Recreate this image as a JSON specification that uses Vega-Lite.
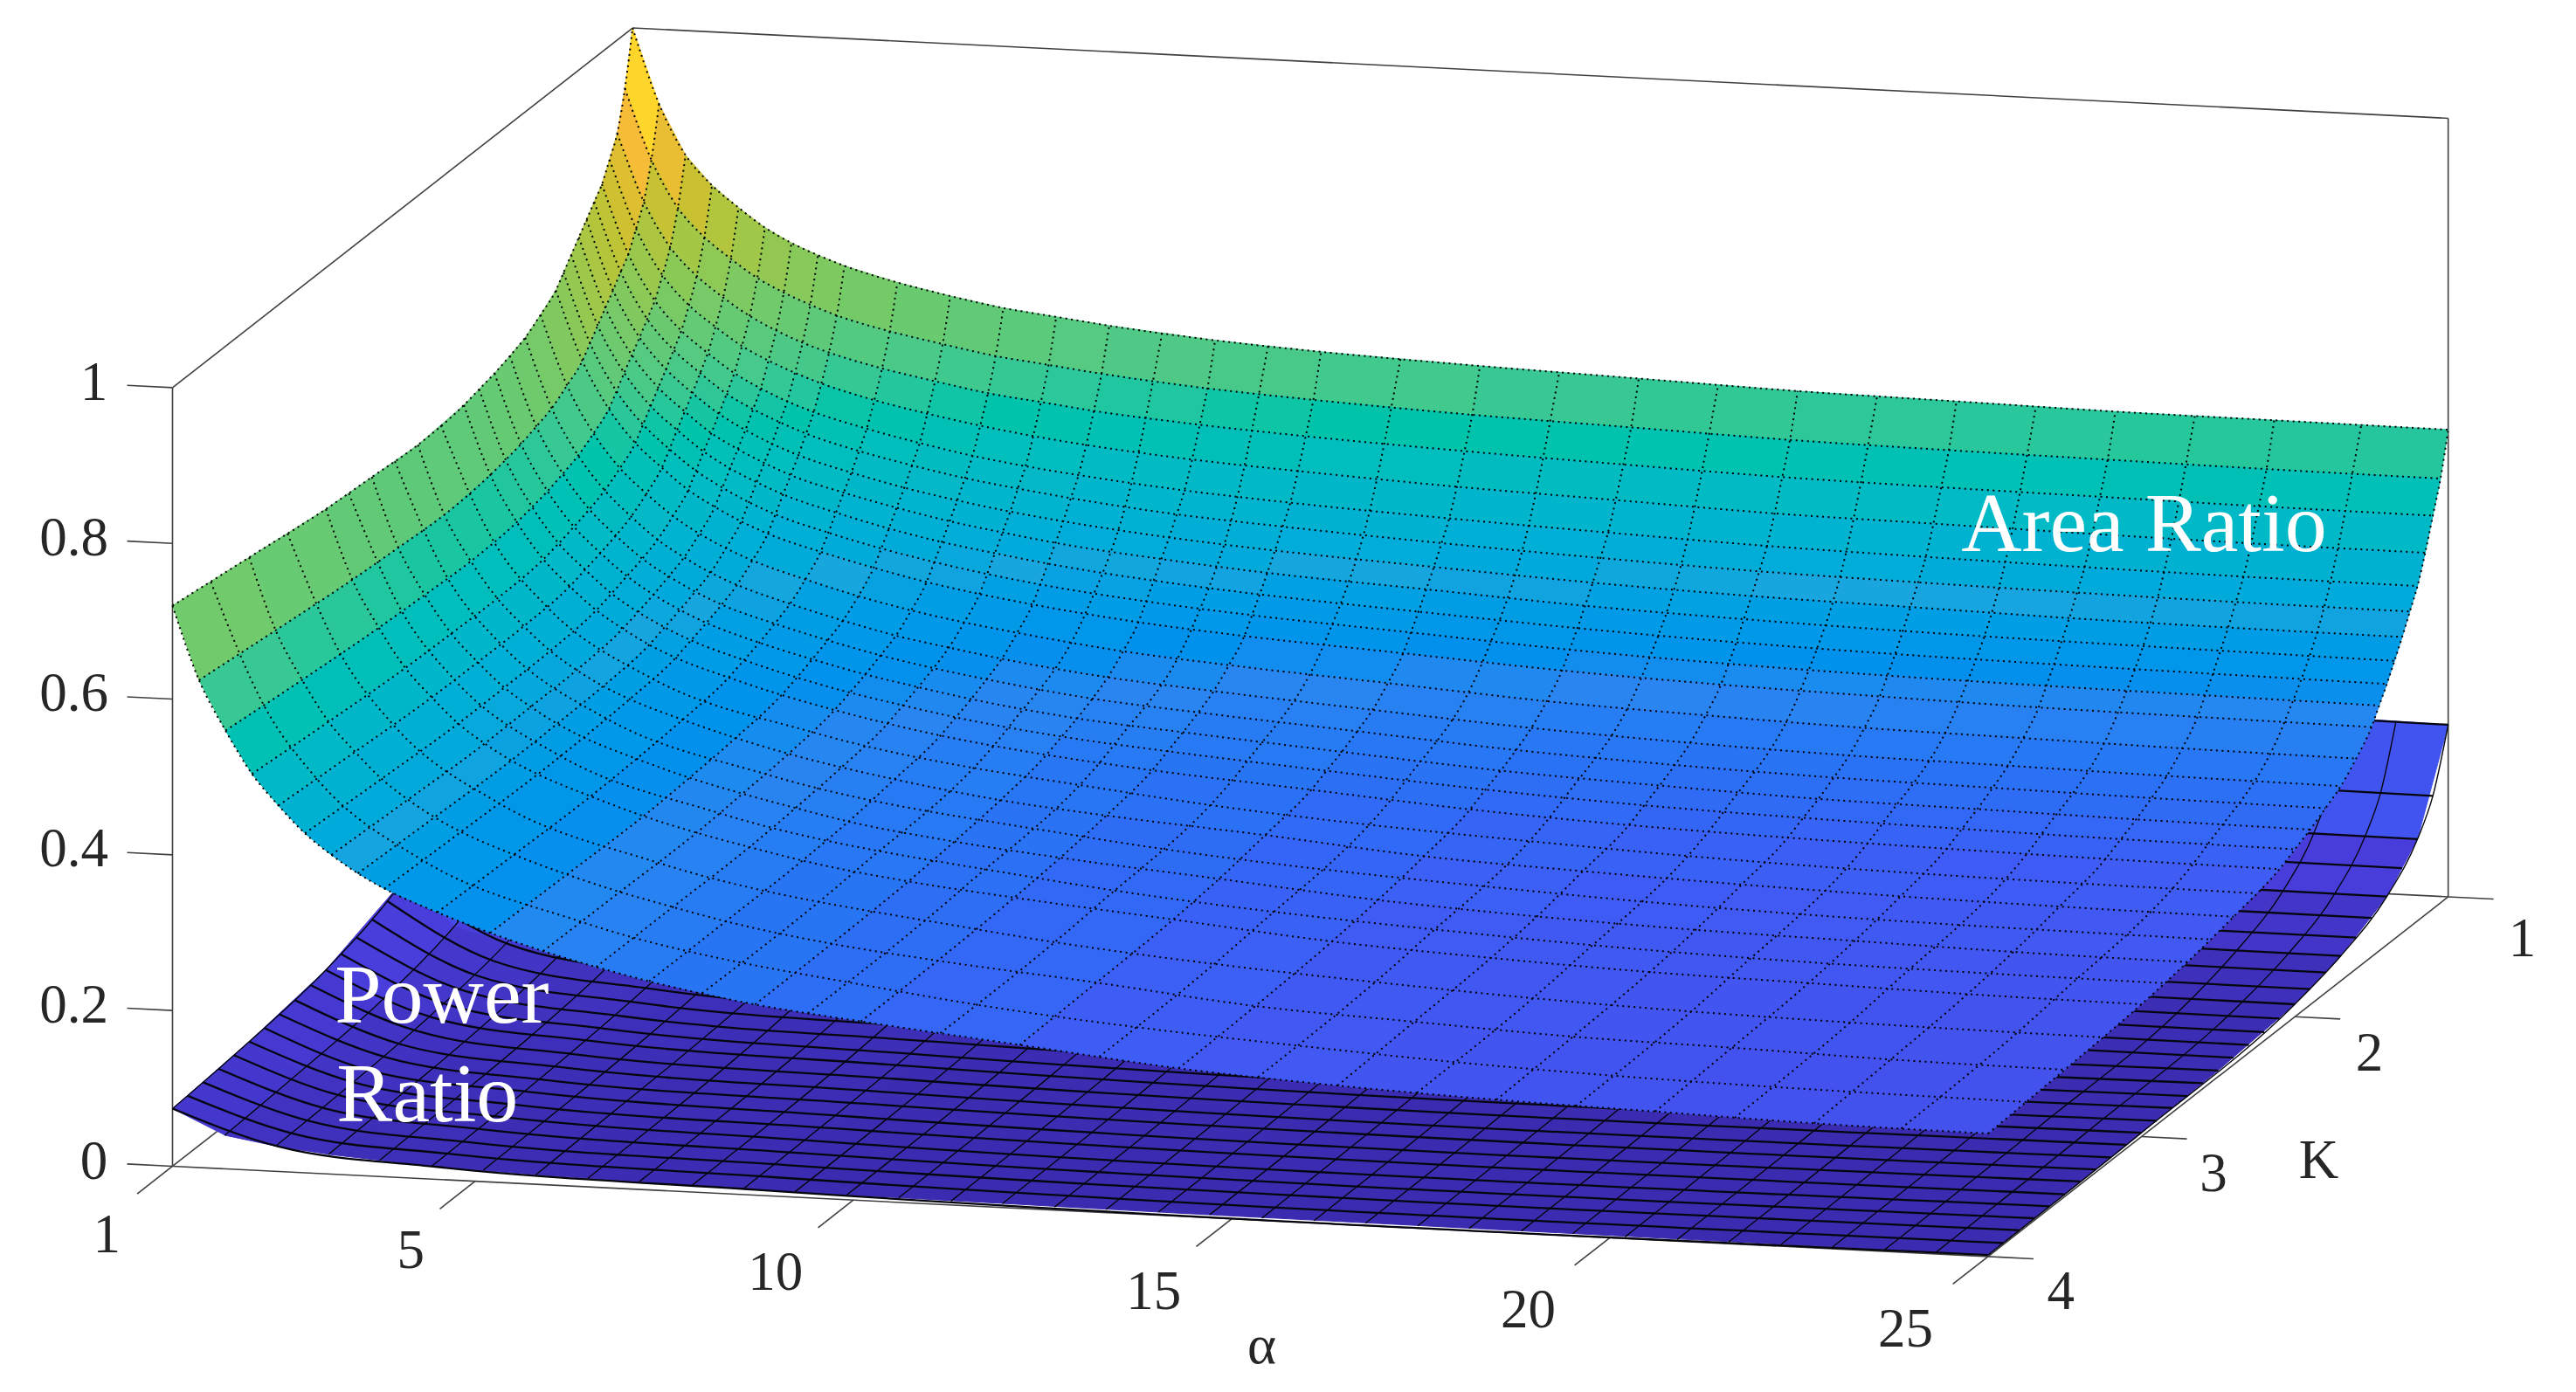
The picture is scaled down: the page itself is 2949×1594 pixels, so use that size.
{"$schema":"https://vega.github.io/schema/vega-lite/v6.json","width":2949,"height":1594,"padding":0,"autosize":"none","background":"white","config":{"view":{"stroke":null}},
"datasets":{
"box":[{"l":1,"a":1,"k":4,"z":0},{"l":1,"a":1,"k":4,"z":1},{"l":2,"a":1,"k":4,"z":1},{"l":2,"a":1,"k":1,"z":1},{"l":3,"a":1,"k":1,"z":1},{"l":3,"a":25,"k":1,"z":1},{"l":4,"a":25,"k":1,"z":1},{"l":4,"a":25,"k":1,"z":0},{"l":5,"a":1,"k":4,"z":0},{"l":5,"a":25,"k":4,"z":0},{"l":6,"a":25,"k":4,"z":0},{"l":6,"a":25,"k":1,"z":0},{"l":7,"a":1,"k":4,"z":0},{"l":7,"a":1,"k":1,"z":0},{"l":8,"a":1,"k":1,"z":0},{"l":8,"a":25,"k":1,"z":0},{"l":9,"a":1,"k":1,"z":0},{"l":9,"a":1,"k":1,"z":1},
{"l":10,"a":0.4,"k":4,"z":0},{"l":10,"a":1,"k":4,"z":0},{"l":11,"a":0.4,"k":4,"z":0.2},{"l":11,"a":1,"k":4,"z":0.2},{"l":12,"a":0.4,"k":4,"z":0.4},{"l":12,"a":1,"k":4,"z":0.4},{"l":13,"a":0.4,"k":4,"z":0.6},{"l":13,"a":1,"k":4,"z":0.6},{"l":14,"a":0.4,"k":4,"z":0.8},{"l":14,"a":1,"k":4,"z":0.8},{"l":15,"a":0.4,"k":4,"z":1},{"l":15,"a":1,"k":4,"z":1},
{"l":16,"a":25,"k":1,"z":0},{"l":16,"a":25.6,"k":1,"z":0},{"l":17,"a":25,"k":2,"z":0},{"l":17,"a":25.6,"k":2,"z":0},{"l":18,"a":25,"k":3,"z":0},{"l":18,"a":25.6,"k":3,"z":0},{"l":19,"a":25,"k":4,"z":0},{"l":19,"a":25.6,"k":4,"z":0},
{"l":20,"a":1,"k":4,"z":0},{"l":20,"a":1,"k":4.23,"z":0},{"l":21,"a":5,"k":4,"z":0},{"l":21,"a":5,"k":4.23,"z":0},{"l":22,"a":10,"k":4,"z":0},{"l":22,"a":10,"k":4.23,"z":0},{"l":23,"a":15,"k":4,"z":0},{"l":23,"a":15,"k":4.23,"z":0},{"l":24,"a":20,"k":4,"z":0},{"l":24,"a":20,"k":4.23,"z":0},{"l":25,"a":25,"k":4,"z":0},{"l":25,"a":25,"k":4.23,"z":0}],
"labels":[{"t":"1","a":0.131,"k":4,"z":-0.093},{"t":"5","a":4.15,"k":4,"z":-0.0945},{"t":"10","a":8.97,"k":4,"z":-0.0985},{"t":"15","a":13.97,"k":4,"z":-0.0998},{"t":"20","a":18.92,"k":4,"z":-0.099},{"t":"25","a":23.91,"k":4,"z":-0.1},{"t":"α","a":15.4,"k":4,"z":-0.162},{"t":"4","a":25.96,"k":4,"z":-0.0417},{"t":"3","a":27.98,"k":4,"z":0.12},{"t":"2","a":30.04,"k":4,"z":0.284},{"t":"1","a":32.06,"k":4,"z":0.441},{"t":"K","a":29.37,"k":4,"z":0.143},{"t":"0","a":-0.04,"k":4,"z":0},{"t":"0.2","a":-0.303,"k":4,"z":0.2},{"t":"0.4","a":-0.303,"k":4,"z":0.4},{"t":"0.6","a":-0.303,"k":4,"z":0.6},{"t":"0.8","a":-0.303,"k":4,"z":0.8},{"t":"1","a":-0.04,"k":4,"z":1}],
"notes":[{"t":"Area Ratio","a":27.06,"k":4,"z":0.949},{"t":"Power","a":4.56,"k":4,"z":0.234},{"t":"Ratio","a":4.37,"k":4,"z":0.107}],
"P":[{"a":1,"k":1,"z":1},{"a":1.7,"k":1,"z":0.665},{"a":2.4,"k":1,"z":0.548},{"a":3.1,"k":1,"z":0.47},{"a":4.5,"k":1,"z":0.377},{"a":5.9,"k":1,"z":0.33},{"a":8.7,"k":1,"z":0.276},{"a":14.3,"k":1,"z":0.24},{"a":25,"k":1,"z":0.221},
{"a":1,"k":1.2,"z":0.65},{"a":1.7,"k":1.2,"z":0.416},{"a":2.4,"k":1.2,"z":0.334},{"a":3.1,"k":1.2,"z":0.279},{"a":4.5,"k":1.2,"z":0.214},{"a":5.9,"k":1.2,"z":0.181},{"a":8.7,"k":1.2,"z":0.143},{"a":14.3,"k":1.2,"z":0.119},{"a":25,"k":1.2,"z":0.105},
{"a":1,"k":1.4,"z":0.47},{"a":1.7,"k":1.4,"z":0.295},{"a":2.4,"k":1.4,"z":0.233},{"a":3.1,"k":1.4,"z":0.193},{"a":4.5,"k":1.4,"z":0.144},{"a":5.9,"k":1.4,"z":0.119},{"a":8.7,"k":1.4,"z":0.091},{"a":14.3,"k":1.4,"z":0.072},{"a":25,"k":1.4,"z":0.062},
{"a":1,"k":1.7,"z":0.33},{"a":1.7,"k":1.7,"z":0.202},{"a":2.4,"k":1.7,"z":0.157},{"a":3.1,"k":1.7,"z":0.127},{"a":4.5,"k":1.7,"z":0.092},{"a":5.9,"k":1.7,"z":0.074},{"a":8.7,"k":1.7,"z":0.053},{"a":14.3,"k":1.7,"z":0.039},{"a":25,"k":1.7,"z":0.032},
{"a":1,"k":2,"z":0.22},{"a":1.7,"k":2,"z":0.132},{"a":2.4,"k":2,"z":0.102},{"a":3.1,"k":2,"z":0.081},{"a":4.5,"k":2,"z":0.057},{"a":5.9,"k":2,"z":0.045},{"a":8.7,"k":2,"z":0.03},{"a":14.3,"k":2,"z":0.021},{"a":25,"k":2,"z":0.016},
{"a":1,"k":2.5,"z":0.135},{"a":1.7,"k":2.5,"z":0.08},{"a":2.4,"k":2.5,"z":0.061},{"a":3.1,"k":2.5,"z":0.049},{"a":4.5,"k":2.5,"z":0.033},{"a":5.9,"k":2.5,"z":0.026},{"a":8.7,"k":2.5,"z":0.017},{"a":14.3,"k":2.5,"z":0.011},{"a":25,"k":2.5,"z":0.008},
{"a":1,"k":3,"z":0.098},{"a":1.7,"k":3,"z":0.058},{"a":2.4,"k":3,"z":0.044},{"a":3.1,"k":3,"z":0.035},{"a":4.5,"k":3,"z":0.024},{"a":5.9,"k":3,"z":0.018},{"a":8.7,"k":3,"z":0.012},{"a":14.3,"k":3,"z":0.007},{"a":25,"k":3,"z":0.005},
{"a":1,"k":3.5,"z":0.083},{"a":1.7,"k":3.5,"z":0.049},{"a":2.4,"k":3.5,"z":0.037},{"a":3.1,"k":3.5,"z":0.029},{"a":4.5,"k":3.5,"z":0.019},{"a":5.9,"k":3.5,"z":0.014},{"a":8.7,"k":3.5,"z":0.009},{"a":14.3,"k":3.5,"z":0.005},{"a":25,"k":3.5,"z":0.003},
{"a":1,"k":4,"z":0.074},{"a":1.7,"k":4,"z":0.043},{"a":2.4,"k":4,"z":0.032},{"a":3.1,"k":4,"z":0.025},{"a":4.5,"k":4,"z":0.016},{"a":5.9,"k":4,"z":0.012},{"a":8.7,"k":4,"z":0.007},{"a":14.3,"k":4,"z":0.004},{"a":25,"k":4,"z":0.002}],
"L":[{"l":25,"a":1,"k":2.5,"z":0.135},{"l":25,"a":2.4,"k":2.5,"z":0.061},{"l":25,"a":4.5,"k":2.5,"z":0.033},{"l":25,"a":8.7,"k":2.5,"z":0.017},{"l":25,"a":25,"k":2.5,"z":0.008},
{"l":26,"a":1,"k":2.6,"z":0.125},{"l":26,"a":2.4,"k":2.6,"z":0.055},{"l":26,"a":4.5,"k":2.6,"z":0.029},{"l":26,"a":8.7,"k":2.6,"z":0.014},{"l":26,"a":25,"k":2.6,"z":0.007},
{"l":27,"a":1,"k":2.7,"z":0.117},{"l":27,"a":2.4,"k":2.7,"z":0.051},{"l":27,"a":4.5,"k":2.7,"z":0.027},{"l":27,"a":8.7,"k":2.7,"z":0.013},{"l":27,"a":25,"k":2.7,"z":0.006},
{"l":28,"a":1,"k":2.8,"z":0.109},{"l":28,"a":2.4,"k":2.8,"z":0.048},{"l":28,"a":4.5,"k":2.8,"z":0.025},{"l":28,"a":8.7,"k":2.8,"z":0.012},{"l":28,"a":25,"k":2.8,"z":0.006},
{"l":29,"a":1,"k":2.9,"z":0.103},{"l":29,"a":2.4,"k":2.9,"z":0.045},{"l":29,"a":4.5,"k":2.9,"z":0.024},{"l":29,"a":8.7,"k":2.9,"z":0.011},{"l":29,"a":25,"k":2.9,"z":0.005},
{"l":30,"a":1,"k":3,"z":0.098},{"l":30,"a":2.4,"k":3,"z":0.044},{"l":30,"a":4.5,"k":3,"z":0.024},{"l":30,"a":8.7,"k":3,"z":0.012},{"l":30,"a":25,"k":3,"z":0.005},
{"l":31,"a":1,"k":3.1,"z":0.094},{"l":31,"a":2.4,"k":3.1,"z":0.042},{"l":31,"a":4.5,"k":3.1,"z":0.022},{"l":31,"a":8.7,"k":3.1,"z":0.011},{"l":31,"a":25,"k":3.1,"z":0.005},
{"l":32,"a":1,"k":3.2,"z":0.09},{"l":32,"a":2.4,"k":3.2,"z":0.04},{"l":32,"a":4.5,"k":3.2,"z":0.021},{"l":32,"a":8.7,"k":3.2,"z":0.01},{"l":32,"a":25,"k":3.2,"z":0.004},
{"l":33,"a":1,"k":3.3,"z":0.087},{"l":33,"a":2.4,"k":3.3,"z":0.039},{"l":33,"a":4.5,"k":3.3,"z":0.02},{"l":33,"a":8.7,"k":3.3,"z":0.01},{"l":33,"a":25,"k":3.3,"z":0.004},
{"l":34,"a":1,"k":3.4,"z":0.085},{"l":34,"a":2.4,"k":3.4,"z":0.037},{"l":34,"a":4.5,"k":3.4,"z":0.02},{"l":34,"a":8.7,"k":3.4,"z":0.009},{"l":34,"a":25,"k":3.4,"z":0.004},
{"l":35,"a":1,"k":3.5,"z":0.083},{"l":35,"a":2.4,"k":3.5,"z":0.037},{"l":35,"a":4.5,"k":3.5,"z":0.019},{"l":35,"a":8.7,"k":3.5,"z":0.009},{"l":35,"a":25,"k":3.5,"z":0.003},
{"l":36,"a":1,"k":3.6,"z":0.081},{"l":36,"a":2.4,"k":3.6,"z":0.036},{"l":36,"a":4.5,"k":3.6,"z":0.019},{"l":36,"a":8.7,"k":3.6,"z":0.008},{"l":36,"a":25,"k":3.6,"z":0.003},
{"l":37,"a":1,"k":3.7,"z":0.079},{"l":37,"a":2.4,"k":3.7,"z":0.035},{"l":37,"a":4.5,"k":3.7,"z":0.018},{"l":37,"a":8.7,"k":3.7,"z":0.008},{"l":37,"a":25,"k":3.7,"z":0.003},
{"l":38,"a":1,"k":3.8,"z":0.077},{"l":38,"a":2.4,"k":3.8,"z":0.034},{"l":38,"a":4.5,"k":3.8,"z":0.017},{"l":38,"a":8.7,"k":3.8,"z":0.008},{"l":38,"a":25,"k":3.8,"z":0.003},
{"l":39,"a":1,"k":3.9,"z":0.075},{"l":39,"a":2.4,"k":3.9,"z":0.033},{"l":39,"a":4.5,"k":3.9,"z":0.017},{"l":39,"a":8.7,"k":3.9,"z":0.008},{"l":39,"a":25,"k":3.9,"z":0.002},
{"l":40,"a":1,"k":4,"z":0.074},{"l":40,"a":2.4,"k":4,"z":0.032},{"l":40,"a":4.5,"k":4,"z":0.016},{"l":40,"a":8.7,"k":4,"z":0.007},{"l":40,"a":25,"k":4,"z":0.002},
{"l":10,"a":20,"k":1,"z":0.224},{"l":10,"a":25,"k":1,"z":0.221},{"l":11,"a":20,"k":1.1,"z":0.148},{"l":11,"a":25,"k":1.1,"z":0.145},{"l":12,"a":20,"k":1.2,"z":0.107},{"l":12,"a":25,"k":1.2,"z":0.105},{"l":13,"a":20,"k":1.3,"z":0.085},{"l":13,"a":25,"k":1.3,"z":0.083},{"l":14,"a":20,"k":1.4,"z":0.064},{"l":14,"a":25,"k":1.4,"z":0.062},{"l":15,"a":20,"k":1.5,"z":0.051},{"l":15,"a":25,"k":1.5,"z":0.05},{"l":16,"a":20,"k":1.6,"z":0.041},{"l":16,"a":25,"k":1.6,"z":0.04},{"l":17,"a":20,"k":1.7,"z":0.033},{"l":17,"a":25,"k":1.7,"z":0.032},{"l":18,"a":20,"k":1.8,"z":0.027},{"l":18,"a":25,"k":1.8,"z":0.026},{"l":19,"a":20,"k":1.9,"z":0.021},{"l":19,"a":25,"k":1.9,"z":0.02},{"l":20,"a":20,"k":2,"z":0.017},{"l":20,"a":25,"k":2,"z":0.016},{"l":21,"a":20,"k":2.1,"z":0.014},{"l":21,"a":25,"k":2.1,"z":0.013},{"l":22,"a":20,"k":2.2,"z":0.012},{"l":22,"a":25,"k":2.2,"z":0.011},{"l":23,"a":20,"k":2.3,"z":0.011},{"l":23,"a":25,"k":2.3,"z":0.01},{"l":24,"a":20,"k":2.4,"z":0.01},{"l":24,"a":25,"k":2.4,"z":0.009},
{"l":101,"a":1,"k":2,"z":0.22},{"l":101,"a":1,"k":2.5,"z":0.135},{"l":101,"a":1,"k":3,"z":0.098},{"l":101,"a":1,"k":3.5,"z":0.083},{"l":101,"a":1,"k":4,"z":0.074},
{"l":102,"a":1.69,"k":2,"z":0.133},{"l":102,"a":1.69,"k":2.5,"z":0.081},{"l":102,"a":1.69,"k":3,"z":0.058},{"l":102,"a":1.69,"k":3.5,"z":0.049},{"l":102,"a":1.69,"k":4,"z":0.043},
{"l":103,"a":2.37,"k":2,"z":0.103},{"l":103,"a":2.37,"k":2.5,"z":0.062},{"l":103,"a":2.37,"k":3,"z":0.045},{"l":103,"a":2.37,"k":3.5,"z":0.037},{"l":103,"a":2.37,"k":4,"z":0.033},
{"l":104,"a":3.06,"k":2,"z":0.082},{"l":104,"a":3.06,"k":2.5,"z":0.049},{"l":104,"a":3.06,"k":3,"z":0.035},{"l":104,"a":3.06,"k":3.5,"z":0.029},{"l":104,"a":3.06,"k":4,"z":0.025},
{"l":105,"a":3.74,"k":2,"z":0.069},{"l":105,"a":3.74,"k":2.5,"z":0.041},{"l":105,"a":3.74,"k":3,"z":0.029},{"l":105,"a":3.74,"k":3.5,"z":0.024},{"l":105,"a":3.74,"k":4,"z":0.021},
{"l":106,"a":4.43,"k":2,"z":0.058},{"l":106,"a":4.43,"k":2.5,"z":0.034},{"l":106,"a":4.43,"k":3,"z":0.024},{"l":106,"a":4.43,"k":3.5,"z":0.019},{"l":106,"a":4.43,"k":4,"z":0.017},
{"l":107,"a":5.11,"k":2,"z":0.052},{"l":107,"a":5.11,"k":2.5,"z":0.03},{"l":107,"a":5.11,"k":3,"z":0.021},{"l":107,"a":5.11,"k":3.5,"z":0.017},{"l":107,"a":5.11,"k":4,"z":0.015},
{"l":108,"a":5.8,"k":2,"z":0.046},{"l":108,"a":5.8,"k":2.5,"z":0.026},{"l":108,"a":5.8,"k":3,"z":0.018},{"l":108,"a":5.8,"k":3.5,"z":0.015},{"l":108,"a":5.8,"k":4,"z":0.012},
{"l":109,"a":6.49,"k":2,"z":0.042},{"l":109,"a":6.49,"k":3,"z":0.017},{"l":109,"a":6.49,"k":4,"z":0.011},
{"l":110,"a":7.17,"k":2,"z":0.037},{"l":110,"a":7.17,"k":3,"z":0.015},{"l":110,"a":7.17,"k":4,"z":0.01},
{"l":111,"a":7.86,"k":2,"z":0.034},{"l":111,"a":7.86,"k":3,"z":0.013},{"l":111,"a":7.86,"k":4,"z":0.008},
{"l":112,"a":8.54,"k":2,"z":0.031},{"l":112,"a":8.54,"k":3,"z":0.012},{"l":112,"a":8.54,"k":4,"z":0.007},
{"l":113,"a":9.23,"k":2,"z":0.029},{"l":113,"a":9.23,"k":3,"z":0.011},{"l":113,"a":9.23,"k":4,"z":0.007},
{"l":114,"a":9.91,"k":2,"z":0.028},{"l":114,"a":9.91,"k":3,"z":0.01},{"l":114,"a":9.91,"k":4,"z":0.006},
{"l":115,"a":10.6,"k":2,"z":0.026},{"l":115,"a":10.6,"k":3,"z":0.01},{"l":115,"a":10.6,"k":4,"z":0.006},
{"l":116,"a":11.29,"k":2,"z":0.025},{"l":116,"a":11.29,"k":3,"z":0.009},{"l":116,"a":11.29,"k":4,"z":0.005},
{"l":117,"a":11.97,"k":2,"z":0.024},{"l":117,"a":11.97,"k":3,"z":0.009},{"l":117,"a":11.97,"k":4,"z":0.005},
{"l":118,"a":12.66,"k":2,"z":0.023},{"l":118,"a":12.66,"k":3,"z":0.008},{"l":118,"a":12.66,"k":4,"z":0.004},
{"l":119,"a":13.34,"k":2,"z":0.022},{"l":119,"a":13.34,"k":3,"z":0.008},{"l":119,"a":13.34,"k":4,"z":0.004},
{"l":120,"a":14.03,"k":2,"z":0.021},{"l":120,"a":14.03,"k":3,"z":0.007},{"l":120,"a":14.03,"k":4,"z":0.004},
{"l":121,"a":14.71,"k":2,"z":0.02},{"l":121,"a":14.71,"k":3,"z":0.007},{"l":121,"a":14.71,"k":4,"z":0.004},
{"l":122,"a":15.4,"k":2,"z":0.02},{"l":122,"a":15.4,"k":3,"z":0.007},{"l":122,"a":15.4,"k":4,"z":0.003},
{"l":123,"a":16.09,"k":2,"z":0.019},{"l":123,"a":16.09,"k":3,"z":0.007},{"l":123,"a":16.09,"k":4,"z":0.003},
{"l":124,"a":16.77,"k":2,"z":0.019},{"l":124,"a":16.77,"k":3,"z":0.006},{"l":124,"a":16.77,"k":4,"z":0.003},
{"l":125,"a":17.46,"k":2,"z":0.019},{"l":125,"a":17.46,"k":3,"z":0.006},{"l":125,"a":17.46,"k":4,"z":0.003},
{"l":126,"a":18.14,"k":2,"z":0.018},{"l":126,"a":18.14,"k":3,"z":0.006},{"l":126,"a":18.14,"k":4,"z":0.003},
{"l":127,"a":18.83,"k":2,"z":0.018},{"l":127,"a":18.83,"k":3,"z":0.006},{"l":127,"a":18.83,"k":4,"z":0.003},
{"l":128,"a":19.51,"k":2,"z":0.018},{"l":128,"a":19.51,"k":3,"z":0.006},{"l":128,"a":19.51,"k":4,"z":0.003},
{"l":129,"a":20.2,"k":2,"z":0.017},{"l":129,"a":20.2,"k":3,"z":0.006},{"l":129,"a":20.2,"k":4,"z":0.002},
{"l":130,"a":20.89,"k":2,"z":0.017},{"l":130,"a":20.89,"k":3,"z":0.005},{"l":130,"a":20.89,"k":4,"z":0.002},
{"l":131,"a":21.57,"k":2,"z":0.017},{"l":131,"a":21.57,"k":3,"z":0.005},{"l":131,"a":21.57,"k":4,"z":0.002},
{"l":132,"a":22.26,"k":2,"z":0.017},{"l":132,"a":22.26,"k":3,"z":0.005},{"l":132,"a":22.26,"k":4,"z":0.002},
{"l":133,"a":22.94,"k":1,"z":0.223},{"l":133,"a":22.94,"k":1.1,"z":0.147},{"l":133,"a":22.94,"k":1.2,"z":0.107},{"l":133,"a":22.94,"k":1.4,"z":0.063},{"l":133,"a":22.94,"k":1.7,"z":0.033},{"l":133,"a":22.94,"k":2,"z":0.017},{"l":133,"a":22.94,"k":3,"z":0.005},{"l":133,"a":22.94,"k":4,"z":0.002},
{"l":134,"a":23.63,"k":1,"z":0.223},{"l":134,"a":23.63,"k":1.1,"z":0.146},{"l":134,"a":23.63,"k":1.2,"z":0.106},{"l":134,"a":23.63,"k":1.4,"z":0.063},{"l":134,"a":23.63,"k":1.7,"z":0.033},{"l":134,"a":23.63,"k":2,"z":0.016},{"l":134,"a":23.63,"k":3,"z":0.005},{"l":134,"a":23.63,"k":4,"z":0.002},
{"l":135,"a":24.31,"k":1,"z":0.222},{"l":135,"a":24.31,"k":1.1,"z":0.146},{"l":135,"a":24.31,"k":1.2,"z":0.106},{"l":135,"a":24.31,"k":1.4,"z":0.062},{"l":135,"a":24.31,"k":1.7,"z":0.032},{"l":135,"a":24.31,"k":2,"z":0.016},{"l":135,"a":24.31,"k":3,"z":0.005},{"l":135,"a":24.31,"k":4,"z":0.002},
{"l":136,"a":25,"k":1,"z":0.221},{"l":136,"a":25,"k":1.1,"z":0.145},{"l":136,"a":25,"k":1.2,"z":0.105},{"l":136,"a":25,"k":1.4,"z":0.062},{"l":136,"a":25,"k":1.7,"z":0.032},{"l":136,"a":25,"k":2,"z":0.016},{"l":136,"a":25,"k":3,"z":0.005},{"l":136,"a":25,"k":4,"z":0.002}],
"AL":[{"l":1,"a":8,"k":1,"z":0.642},{"l":1,"a":8,"k":1.2,"z":0.48},{"l":1,"a":8,"k":1.5,"z":0.359},{"l":1,"a":8,"k":2,"z":0.29},{"l":1,"a":8,"k":3,"z":0.259},{"l":1,"a":8,"k":4,"z":0.256},
{"l":2,"a":9.4,"k":1,"z":0.632},{"l":2,"a":9.4,"k":1.2,"z":0.469},{"l":2,"a":9.4,"k":1.5,"z":0.345},{"l":2,"a":9.4,"k":2,"z":0.275},{"l":2,"a":9.4,"k":3,"z":0.242},{"l":2,"a":9.4,"k":4,"z":0.237},
{"l":3,"a":11.15,"k":1,"z":0.624},{"l":3,"a":11.15,"k":1.2,"z":0.46},{"l":3,"a":11.15,"k":1.5,"z":0.334},{"l":3,"a":11.15,"k":2,"z":0.261},{"l":3,"a":11.15,"k":3,"z":0.226},{"l":3,"a":11.15,"k":4,"z":0.22},
{"l":4,"a":13.25,"k":1,"z":0.617},{"l":4,"a":13.25,"k":1.2,"z":0.451},{"l":4,"a":13.25,"k":1.5,"z":0.322},{"l":4,"a":13.25,"k":2,"z":0.247},{"l":4,"a":13.25,"k":3,"z":0.208},{"l":4,"a":13.25,"k":4,"z":0.2},
{"l":5,"a":15.35,"k":1,"z":0.611},{"l":5,"a":15.35,"k":1.2,"z":0.443},{"l":5,"a":15.35,"k":1.5,"z":0.312},{"l":5,"a":15.35,"k":2,"z":0.235},{"l":5,"a":15.35,"k":3,"z":0.193},{"l":5,"a":15.35,"k":4,"z":0.184},
{"l":6,"a":17.45,"k":1,"z":0.606},{"l":6,"a":17.45,"k":1.2,"z":0.438},{"l":6,"a":17.45,"k":1.5,"z":0.305},{"l":6,"a":17.45,"k":2,"z":0.227},{"l":6,"a":17.45,"k":3,"z":0.184},{"l":6,"a":17.45,"k":4,"z":0.174},
{"l":7,"a":19.55,"k":1,"z":0.603},{"l":7,"a":19.55,"k":1.2,"z":0.434},{"l":7,"a":19.55,"k":1.5,"z":0.301},{"l":7,"a":19.55,"k":2,"z":0.222},{"l":7,"a":19.55,"k":3,"z":0.178},{"l":7,"a":19.55,"k":4,"z":0.167},
{"l":8,"a":21.65,"k":1,"z":0.601},{"l":8,"a":21.65,"k":1.2,"z":0.432},{"l":8,"a":21.65,"k":1.5,"z":0.298},{"l":8,"a":21.65,"k":2,"z":0.218},{"l":8,"a":21.65,"k":3,"z":0.174},{"l":8,"a":21.65,"k":4,"z":0.162},
{"l":9,"a":23.85,"k":1,"z":0.6},{"l":9,"a":23.85,"k":1.2,"z":0.43},{"l":9,"a":23.85,"k":1.5,"z":0.296},{"l":9,"a":23.85,"k":2,"z":0.216},{"l":9,"a":23.85,"k":3,"z":0.171},{"l":9,"a":23.85,"k":4,"z":0.159},
{"l":21,"a":1,"k":2.25,"z":0.682},{"l":21,"a":1.7,"k":2.25,"z":0.536},{"l":21,"a":2.4,"k":2.25,"z":0.456},{"l":21,"a":3.8,"k":2.25,"z":0.37},{"l":21,"a":5.9,"k":2.25,"z":0.312},{"l":21,"a":10.1,"k":2.25,"z":0.254},{"l":21,"a":16.4,"k":2.25,"z":0.213},{"l":21,"a":25,"k":2.25,"z":0.197},
{"l":22,"a":1,"k":2.55,"z":0.682},{"l":22,"a":1.7,"k":2.55,"z":0.535},{"l":22,"a":2.4,"k":2.55,"z":0.454},{"l":22,"a":3.8,"k":2.55,"z":0.365},{"l":22,"a":5.9,"k":2.55,"z":0.304},{"l":22,"a":10.1,"k":2.55,"z":0.244},{"l":22,"a":16.4,"k":2.55,"z":0.201},{"l":22,"a":25,"k":2.55,"z":0.184},
{"l":23,"a":1,"k":2.85,"z":0.687},{"l":23,"a":1.7,"k":2.85,"z":0.539},{"l":23,"a":2.4,"k":2.85,"z":0.454},{"l":23,"a":3.8,"k":2.85,"z":0.363},{"l":23,"a":5.9,"k":2.85,"z":0.3},{"l":23,"a":10.1,"k":2.85,"z":0.237},{"l":23,"a":16.4,"k":2.85,"z":0.191},{"l":23,"a":25,"k":2.85,"z":0.174},
{"l":24,"a":1,"k":3.25,"z":0.697},{"l":24,"a":1.7,"k":3.25,"z":0.546},{"l":24,"a":2.4,"k":3.25,"z":0.458},{"l":24,"a":3.8,"k":3.25,"z":0.364},{"l":24,"a":5.9,"k":3.25,"z":0.298},{"l":24,"a":10.1,"k":3.25,"z":0.233},{"l":24,"a":16.4,"k":3.25,"z":0.185},{"l":24,"a":25,"k":3.25,"z":0.166},
{"l":25,"a":1,"k":3.75,"z":0.712},{"l":25,"a":1.7,"k":3.75,"z":0.557},{"l":25,"a":2.4,"k":3.75,"z":0.466},{"l":25,"a":3.8,"k":3.75,"z":0.368},{"l":25,"a":5.9,"k":3.75,"z":0.299},{"l":25,"a":10.1,"k":3.75,"z":0.23},{"l":25,"a":16.4,"k":3.75,"z":0.18},{"l":25,"a":25,"k":3.75,"z":0.16}],
"A":[{"a":1,"k":1,"z":1},{"a":1.35,"k":1,"z":0.904},{"a":1.7,"k":1,"z":0.84},{"a":2.05,"k":1,"z":0.803},{"a":2.4,"k":1,"z":0.776},{"a":2.75,"k":1,"z":0.752},{"a":3.1,"k":1,"z":0.734},{"a":3.45,"k":1,"z":0.72},{"a":3.8,"k":1,"z":0.708},{"a":4.5,"k":1,"z":0.69},{"a":5.2,"k":1,"z":0.676},{"a":5.9,"k":1,"z":0.664},{"a":6.6,"k":1,"z":0.656},{"a":7.3,"k":1,"z":0.648},{"a":8.7,"k":1,"z":0.636},{"a":10.1,"k":1,"z":0.628},{"a":12.2,"k":1,"z":0.62},{"a":14.3,"k":1,"z":0.614},{"a":16.4,"k":1,"z":0.608},{"a":18.5,"k":1,"z":0.605},{"a":20.6,"k":1,"z":0.602},{"a":22.7,"k":1,"z":0.601},{"a":25,"k":1,"z":0.6},
{"a":1,"k":1.05,"z":0.93},{"a":1.35,"k":1.05,"z":0.84},{"a":1.7,"k":1.05,"z":0.78},{"a":2.05,"k":1.05,"z":0.744},{"a":2.4,"k":1.05,"z":0.718},{"a":2.75,"k":1.05,"z":0.695},{"a":3.1,"k":1.05,"z":0.678},{"a":3.45,"k":1.05,"z":0.664},{"a":3.8,"k":1.05,"z":0.652},{"a":4.5,"k":1.05,"z":0.635},{"a":5.2,"k":1.05,"z":0.622},{"a":5.9,"k":1.05,"z":0.61},{"a":6.6,"k":1.05,"z":0.602},{"a":7.3,"k":1.05,"z":0.594},{"a":8.7,"k":1.05,"z":0.582},{"a":10.1,"k":1.05,"z":0.574},{"a":12.2,"k":1.05,"z":0.565},{"a":14.3,"k":1.05,"z":0.559},{"a":16.4,"k":1.05,"z":0.553},{"a":18.5,"k":1.05,"z":0.55},{"a":20.6,"k":1.05,"z":0.548},{"a":22.7,"k":1.05,"z":0.546},{"a":25,"k":1.05,"z":0.545},
{"a":1,"k":1.1,"z":0.88},{"a":1.35,"k":1.1,"z":0.794},{"a":1.7,"k":1.1,"z":0.737},{"a":2.05,"k":1.1,"z":0.702},{"a":2.4,"k":1.1,"z":0.676},{"a":2.75,"k":1.1,"z":0.654},{"a":3.1,"k":1.1,"z":0.637},{"a":3.45,"k":1.1,"z":0.623},{"a":3.8,"k":1.1,"z":0.612},{"a":4.5,"k":1.1,"z":0.595},{"a":5.2,"k":1.1,"z":0.582},{"a":5.9,"k":1.1,"z":0.57},{"a":6.6,"k":1.1,"z":0.562},{"a":7.3,"k":1.1,"z":0.554},{"a":8.7,"k":1.1,"z":0.543},{"a":10.1,"k":1.1,"z":0.535},{"a":12.2,"k":1.1,"z":0.526},{"a":14.3,"k":1.1,"z":0.519},{"a":16.4,"k":1.1,"z":0.513},{"a":18.5,"k":1.1,"z":0.51},{"a":20.6,"k":1.1,"z":0.508},{"a":22.7,"k":1.1,"z":0.506},{"a":25,"k":1.1,"z":0.505},
{"a":1,"k":1.15,"z":0.854},{"a":1.35,"k":1.15,"z":0.767},{"a":1.7,"k":1.15,"z":0.709},{"a":2.05,"k":1.15,"z":0.672},{"a":2.4,"k":1.15,"z":0.646},{"a":2.75,"k":1.15,"z":0.623},{"a":3.1,"k":1.15,"z":0.606},{"a":3.45,"k":1.15,"z":0.592},{"a":3.8,"k":1.15,"z":0.58},{"a":4.5,"k":1.15,"z":0.562},{"a":5.2,"k":1.15,"z":0.548},{"a":5.9,"k":1.15,"z":0.536},{"a":6.6,"k":1.15,"z":0.526},{"a":7.3,"k":1.15,"z":0.518},{"a":8.7,"k":1.15,"z":0.506},{"a":10.1,"k":1.15,"z":0.498},{"a":12.2,"k":1.15,"z":0.488},{"a":14.3,"k":1.15,"z":0.481},{"a":16.4,"k":1.15,"z":0.474},{"a":18.5,"k":1.15,"z":0.471},{"a":20.6,"k":1.15,"z":0.468},{"a":22.7,"k":1.15,"z":0.466},{"a":25,"k":1.15,"z":0.465},
{"a":1,"k":1.2,"z":0.83},{"a":1.35,"k":1.2,"z":0.742},{"a":1.7,"k":1.2,"z":0.684},{"a":2.05,"k":1.2,"z":0.647},{"a":2.4,"k":1.2,"z":0.62},{"a":2.75,"k":1.2,"z":0.596},{"a":3.1,"k":1.2,"z":0.578},{"a":3.45,"k":1.2,"z":0.563},{"a":3.8,"k":1.2,"z":0.551},{"a":4.5,"k":1.2,"z":0.533},{"a":5.2,"k":1.2,"z":0.518},{"a":5.9,"k":1.2,"z":0.505},{"a":6.6,"k":1.2,"z":0.495},{"a":7.3,"k":1.2,"z":0.487},{"a":8.7,"k":1.2,"z":0.474},{"a":10.1,"k":1.2,"z":0.465},{"a":12.2,"k":1.2,"z":0.455},{"a":14.3,"k":1.2,"z":0.447},{"a":16.4,"k":1.2,"z":0.44},{"a":18.5,"k":1.2,"z":0.436},{"a":20.6,"k":1.2,"z":0.433},{"a":22.7,"k":1.2,"z":0.431},{"a":25,"k":1.2,"z":0.43},
{"a":1,"k":1.25,"z":0.815},{"a":1.35,"k":1.25,"z":0.727},{"a":1.7,"k":1.25,"z":0.668},{"a":2.05,"k":1.25,"z":0.63},{"a":2.4,"k":1.25,"z":0.602},{"a":2.75,"k":1.25,"z":0.577},{"a":3.1,"k":1.25,"z":0.559},{"a":3.45,"k":1.25,"z":0.544},{"a":3.8,"k":1.25,"z":0.531},{"a":4.5,"k":1.25,"z":0.512},{"a":5.2,"k":1.25,"z":0.497},{"a":5.9,"k":1.25,"z":0.484},{"a":6.6,"k":1.25,"z":0.474},{"a":7.3,"k":1.25,"z":0.465},{"a":8.7,"k":1.25,"z":0.451},{"a":10.1,"k":1.25,"z":0.442},{"a":12.2,"k":1.25,"z":0.431},{"a":14.3,"k":1.25,"z":0.422},{"a":16.4,"k":1.25,"z":0.415},{"a":18.5,"k":1.25,"z":0.411},{"a":20.6,"k":1.25,"z":0.408},{"a":22.7,"k":1.25,"z":0.406},{"a":25,"k":1.25,"z":0.405},
{"a":1,"k":1.3,"z":0.8},{"a":1.35,"k":1.3,"z":0.711},{"a":1.7,"k":1.3,"z":0.652},{"a":2.05,"k":1.3,"z":0.613},{"a":2.4,"k":1.3,"z":0.584},{"a":2.75,"k":1.3,"z":0.559},{"a":3.1,"k":1.3,"z":0.54},{"a":3.45,"k":1.3,"z":0.524},{"a":3.8,"k":1.3,"z":0.511},{"a":4.5,"k":1.3,"z":0.492},{"a":5.2,"k":1.3,"z":0.476},{"a":5.9,"k":1.3,"z":0.463},{"a":6.6,"k":1.3,"z":0.452},{"a":7.3,"k":1.3,"z":0.443},{"a":8.7,"k":1.3,"z":0.429},{"a":10.1,"k":1.3,"z":0.419},{"a":12.2,"k":1.3,"z":0.408},{"a":14.3,"k":1.3,"z":0.398},{"a":16.4,"k":1.3,"z":0.391},{"a":18.5,"k":1.3,"z":0.387},{"a":20.6,"k":1.3,"z":0.383},{"a":22.7,"k":1.3,"z":0.381},{"a":25,"k":1.3,"z":0.38},
{"a":1,"k":1.35,"z":0.785},{"a":1.35,"k":1.35,"z":0.696},{"a":1.7,"k":1.35,"z":0.637},{"a":2.05,"k":1.35,"z":0.597},{"a":2.4,"k":1.35,"z":0.568},{"a":2.75,"k":1.35,"z":0.542},{"a":3.1,"k":1.35,"z":0.523},{"a":3.45,"k":1.35,"z":0.507},{"a":3.8,"k":1.35,"z":0.493},{"a":4.5,"k":1.35,"z":0.474},{"a":5.2,"k":1.35,"z":0.458},{"a":5.9,"k":1.35,"z":0.444},{"a":6.6,"k":1.35,"z":0.433},{"a":7.3,"k":1.35,"z":0.423},{"a":8.7,"k":1.35,"z":0.409},{"a":10.1,"k":1.35,"z":0.398},{"a":12.2,"k":1.35,"z":0.387},{"a":14.3,"k":1.35,"z":0.376},{"a":16.4,"k":1.35,"z":0.369},{"a":18.5,"k":1.35,"z":0.364},{"a":20.6,"k":1.35,"z":0.361},{"a":22.7,"k":1.35,"z":0.359},{"a":25,"k":1.35,"z":0.357},
{"a":1,"k":1.4,"z":0.77},{"a":1.35,"k":1.4,"z":0.681},{"a":1.7,"k":1.4,"z":0.622},{"a":2.05,"k":1.4,"z":0.581},{"a":2.4,"k":1.4,"z":0.552},{"a":2.75,"k":1.4,"z":0.526},{"a":3.1,"k":1.4,"z":0.506},{"a":3.45,"k":1.4,"z":0.49},{"a":3.8,"k":1.4,"z":0.476},{"a":4.5,"k":1.4,"z":0.456},{"a":5.2,"k":1.4,"z":0.439},{"a":5.9,"k":1.4,"z":0.425},{"a":6.6,"k":1.4,"z":0.414},{"a":7.3,"k":1.4,"z":0.404},{"a":8.7,"k":1.4,"z":0.389},{"a":10.1,"k":1.4,"z":0.378},{"a":12.2,"k":1.4,"z":0.366},{"a":14.3,"k":1.4,"z":0.355},{"a":16.4,"k":1.4,"z":0.347},{"a":18.5,"k":1.4,"z":0.342},{"a":20.6,"k":1.4,"z":0.339},{"a":22.7,"k":1.4,"z":0.337},{"a":25,"k":1.4,"z":0.335},
{"a":1,"k":1.45,"z":0.755},{"a":1.35,"k":1.45,"z":0.666},{"a":1.7,"k":1.45,"z":0.606},{"a":2.05,"k":1.45,"z":0.565},{"a":2.4,"k":1.45,"z":0.535},{"a":2.75,"k":1.45,"z":0.509},{"a":3.1,"k":1.45,"z":0.489},{"a":3.45,"k":1.45,"z":0.472},{"a":3.8,"k":1.45,"z":0.458},{"a":4.5,"k":1.45,"z":0.438},{"a":5.2,"k":1.45,"z":0.421},{"a":5.9,"k":1.45,"z":0.407},{"a":6.6,"k":1.45,"z":0.395},{"a":7.3,"k":1.45,"z":0.385},{"a":8.7,"k":1.45,"z":0.37},{"a":10.1,"k":1.45,"z":0.359},{"a":12.2,"k":1.45,"z":0.347},{"a":14.3,"k":1.45,"z":0.335},{"a":16.4,"k":1.45,"z":0.327},{"a":18.5,"k":1.45,"z":0.322},{"a":20.6,"k":1.45,"z":0.319},{"a":22.7,"k":1.45,"z":0.317},{"a":25,"k":1.45,"z":0.315},
{"a":1,"k":1.5,"z":0.74},{"a":1.35,"k":1.5,"z":0.651},{"a":1.7,"k":1.5,"z":0.591},{"a":2.05,"k":1.5,"z":0.549},{"a":2.4,"k":1.5,"z":0.519},{"a":2.75,"k":1.5,"z":0.492},{"a":3.1,"k":1.5,"z":0.472},{"a":3.45,"k":1.5,"z":0.455},{"a":3.8,"k":1.5,"z":0.441},{"a":4.5,"k":1.5,"z":0.421},{"a":5.2,"k":1.5,"z":0.404},{"a":5.9,"k":1.5,"z":0.389},{"a":6.6,"k":1.5,"z":0.377},{"a":7.3,"k":1.5,"z":0.367},{"a":8.7,"k":1.5,"z":0.351},{"a":10.1,"k":1.5,"z":0.34},{"a":12.2,"k":1.5,"z":0.328},{"a":14.3,"k":1.5,"z":0.316},{"a":16.4,"k":1.5,"z":0.308},{"a":18.5,"k":1.5,"z":0.303},{"a":20.6,"k":1.5,"z":0.299},{"a":22.7,"k":1.5,"z":0.297},{"a":25,"k":1.5,"z":0.295},
{"a":1,"k":1.6,"z":0.724},{"a":1.35,"k":1.6,"z":0.635},{"a":1.7,"k":1.6,"z":0.575},{"a":2.05,"k":1.6,"z":0.532},{"a":2.4,"k":1.6,"z":0.501},{"a":2.75,"k":1.6,"z":0.474},{"a":3.1,"k":1.6,"z":0.453},{"a":3.45,"k":1.6,"z":0.436},{"a":3.8,"k":1.6,"z":0.422},{"a":4.5,"k":1.6,"z":0.401},{"a":5.2,"k":1.6,"z":0.383},{"a":5.9,"k":1.6,"z":0.368},{"a":6.6,"k":1.6,"z":0.356},{"a":7.3,"k":1.6,"z":0.346},{"a":8.7,"k":1.6,"z":0.329},{"a":10.1,"k":1.6,"z":0.318},{"a":12.2,"k":1.6,"z":0.305},{"a":14.3,"k":1.6,"z":0.292},{"a":16.4,"k":1.6,"z":0.284},{"a":18.5,"k":1.6,"z":0.278},{"a":20.6,"k":1.6,"z":0.275},{"a":22.7,"k":1.6,"z":0.272},{"a":25,"k":1.6,"z":0.27},
{"a":1,"k":1.7,"z":0.71},{"a":1.35,"k":1.7,"z":0.621},{"a":1.7,"k":1.7,"z":0.562},{"a":2.05,"k":1.7,"z":0.519},{"a":2.4,"k":1.7,"z":0.487},{"a":2.75,"k":1.7,"z":0.459},{"a":3.1,"k":1.7,"z":0.438},{"a":3.45,"k":1.7,"z":0.42},{"a":3.8,"k":1.7,"z":0.406},{"a":4.5,"k":1.7,"z":0.385},{"a":5.2,"k":1.7,"z":0.367},{"a":5.9,"k":1.7,"z":0.351},{"a":6.6,"k":1.7,"z":0.339},{"a":7.3,"k":1.7,"z":0.328},{"a":8.7,"k":1.7,"z":0.311},{"a":10.1,"k":1.7,"z":0.3},{"a":12.2,"k":1.7,"z":0.286},{"a":14.3,"k":1.7,"z":0.273},{"a":16.4,"k":1.7,"z":0.264},{"a":18.5,"k":1.7,"z":0.258},{"a":20.6,"k":1.7,"z":0.255},{"a":22.7,"k":1.7,"z":0.252},{"a":25,"k":1.7,"z":0.25},
{"a":1,"k":1.8,"z":0.702},{"a":1.35,"k":1.8,"z":0.613},{"a":1.7,"k":1.8,"z":0.554},{"a":2.05,"k":1.8,"z":0.51},{"a":2.4,"k":1.8,"z":0.478},{"a":2.75,"k":1.8,"z":0.45},{"a":3.1,"k":1.8,"z":0.429},{"a":3.45,"k":1.8,"z":0.411},{"a":3.8,"k":1.8,"z":0.396},{"a":4.5,"k":1.8,"z":0.375},{"a":5.2,"k":1.8,"z":0.357},{"a":5.9,"k":1.8,"z":0.341},{"a":6.6,"k":1.8,"z":0.328},{"a":7.3,"k":1.8,"z":0.317},{"a":8.7,"k":1.8,"z":0.299},{"a":10.1,"k":1.8,"z":0.288},{"a":12.2,"k":1.8,"z":0.274},{"a":14.3,"k":1.8,"z":0.26},{"a":16.4,"k":1.8,"z":0.251},{"a":18.5,"k":1.8,"z":0.245},{"a":20.6,"k":1.8,"z":0.242},{"a":22.7,"k":1.8,"z":0.239},{"a":25,"k":1.8,"z":0.237},
{"a":1,"k":1.9,"z":0.695},{"a":1.35,"k":1.9,"z":0.606},{"a":1.7,"k":1.9,"z":0.547},{"a":2.05,"k":1.9,"z":0.503},{"a":2.4,"k":1.9,"z":0.471},{"a":2.75,"k":1.9,"z":0.443},{"a":3.1,"k":1.9,"z":0.421},{"a":3.45,"k":1.9,"z":0.403},{"a":3.8,"k":1.9,"z":0.388},{"a":4.5,"k":1.9,"z":0.366},{"a":5.2,"k":1.9,"z":0.348},{"a":5.9,"k":1.9,"z":0.332},{"a":6.6,"k":1.9,"z":0.319},{"a":7.3,"k":1.9,"z":0.307},{"a":8.7,"k":1.9,"z":0.289},{"a":10.1,"k":1.9,"z":0.278},{"a":12.2,"k":1.9,"z":0.263},{"a":14.3,"k":1.9,"z":0.249},{"a":16.4,"k":1.9,"z":0.24},{"a":18.5,"k":1.9,"z":0.233},{"a":20.6,"k":1.9,"z":0.23},{"a":22.7,"k":1.9,"z":0.227},{"a":25,"k":1.9,"z":0.225},
{"a":1,"k":2,"z":0.69},{"a":1.35,"k":2,"z":0.601},{"a":1.7,"k":2,"z":0.542},{"a":2.05,"k":2,"z":0.497},{"a":2.4,"k":2,"z":0.465},{"a":2.75,"k":2,"z":0.436},{"a":3.1,"k":2,"z":0.414},{"a":3.45,"k":2,"z":0.396},{"a":3.8,"k":2,"z":0.381},{"a":4.5,"k":2,"z":0.359},{"a":5.2,"k":2,"z":0.34},{"a":5.9,"k":2,"z":0.324},{"a":6.6,"k":2,"z":0.311},{"a":7.3,"k":2,"z":0.299},{"a":8.7,"k":2,"z":0.281},{"a":10.1,"k":2,"z":0.269},{"a":12.2,"k":2,"z":0.254},{"a":14.3,"k":2,"z":0.24},{"a":16.4,"k":2,"z":0.23},{"a":18.5,"k":2,"z":0.224},{"a":20.6,"k":2,"z":0.22},{"a":22.7,"k":2,"z":0.217},{"a":25,"k":2,"z":0.215},
{"a":1,"k":2.1,"z":0.685},{"a":1.35,"k":2.1,"z":0.597},{"a":1.7,"k":2.1,"z":0.538},{"a":2.05,"k":2.1,"z":0.492},{"a":2.4,"k":2.1,"z":0.459},{"a":2.75,"k":2.1,"z":0.43},{"a":3.1,"k":2.1,"z":0.408},{"a":3.45,"k":2.1,"z":0.389},{"a":3.8,"k":2.1,"z":0.374},{"a":4.5,"k":2.1,"z":0.352},{"a":5.2,"k":2.1,"z":0.333},{"a":5.9,"k":2.1,"z":0.317},{"a":6.6,"k":2.1,"z":0.303},{"a":7.3,"k":2.1,"z":0.291},{"a":8.7,"k":2.1,"z":0.273},{"a":10.1,"k":2.1,"z":0.26},{"a":12.2,"k":2.1,"z":0.245},{"a":14.3,"k":2.1,"z":0.23},{"a":16.4,"k":2.1,"z":0.22},{"a":18.5,"k":2.1,"z":0.214},{"a":20.6,"k":2.1,"z":0.21},{"a":22.7,"k":2.1,"z":0.207},{"a":25,"k":2.1,"z":0.205},
{"a":1,"k":2.4,"z":0.68},{"a":1.35,"k":2.4,"z":0.592},{"a":1.7,"k":2.4,"z":0.534},{"a":2.05,"k":2.4,"z":0.488},{"a":2.4,"k":2.4,"z":0.454},{"a":2.75,"k":2.4,"z":0.424},{"a":3.1,"k":2.4,"z":0.401},{"a":3.45,"k":2.4,"z":0.382},{"a":3.8,"k":2.4,"z":0.367},{"a":4.5,"k":2.4,"z":0.344},{"a":5.2,"k":2.4,"z":0.324},{"a":5.9,"k":2.4,"z":0.307},{"a":6.6,"k":2.4,"z":0.293},{"a":7.3,"k":2.4,"z":0.281},{"a":8.7,"k":2.4,"z":0.261},{"a":10.1,"k":2.4,"z":0.248},{"a":12.2,"k":2.4,"z":0.233},{"a":14.3,"k":2.4,"z":0.216},{"a":16.4,"k":2.4,"z":0.207},{"a":18.5,"k":2.4,"z":0.2},{"a":20.6,"k":2.4,"z":0.195},{"a":22.7,"k":2.4,"z":0.192},{"a":25,"k":2.4,"z":0.19},
{"a":1,"k":2.7,"z":0.685},{"a":1.35,"k":2.7,"z":0.596},{"a":1.7,"k":2.7,"z":0.537},{"a":2.05,"k":2.7,"z":0.489},{"a":2.4,"k":2.7,"z":0.454},{"a":2.75,"k":2.7,"z":0.423},{"a":3.1,"k":2.7,"z":0.4},{"a":3.45,"k":2.7,"z":0.38},{"a":3.8,"k":2.7,"z":0.364},{"a":4.5,"k":2.7,"z":0.34},{"a":5.2,"k":2.7,"z":0.319},{"a":5.9,"k":2.7,"z":0.302},{"a":6.6,"k":2.7,"z":0.287},{"a":7.3,"k":2.7,"z":0.273},{"a":8.7,"k":2.7,"z":0.254},{"a":10.1,"k":2.7,"z":0.24},{"a":12.2,"k":2.7,"z":0.223},{"a":14.3,"k":2.7,"z":0.206},{"a":16.4,"k":2.7,"z":0.195},{"a":18.5,"k":2.7,"z":0.188},{"a":20.6,"k":2.7,"z":0.184},{"a":22.7,"k":2.7,"z":0.18},{"a":25,"k":2.7,"z":0.178},
{"a":1,"k":3,"z":0.69},{"a":1.35,"k":3,"z":0.601},{"a":1.7,"k":3,"z":0.541},{"a":2.05,"k":3,"z":0.491},{"a":2.4,"k":3,"z":0.455},{"a":2.75,"k":3,"z":0.423},{"a":3.1,"k":3,"z":0.399},{"a":3.45,"k":3,"z":0.379},{"a":3.8,"k":3,"z":0.363},{"a":4.5,"k":3,"z":0.338},{"a":5.2,"k":3,"z":0.316},{"a":5.9,"k":3,"z":0.298},{"a":6.6,"k":3,"z":0.283},{"a":7.3,"k":3,"z":0.269},{"a":8.7,"k":3,"z":0.249},{"a":10.1,"k":3,"z":0.235},{"a":12.2,"k":3,"z":0.217},{"a":14.3,"k":3,"z":0.199},{"a":16.4,"k":3,"z":0.188},{"a":18.5,"k":3,"z":0.18},{"a":20.6,"k":3,"z":0.176},{"a":22.7,"k":3,"z":0.172},{"a":25,"k":3,"z":0.17},
{"a":1,"k":3.5,"z":0.705},{"a":1.35,"k":3.5,"z":0.613},{"a":1.7,"k":3.5,"z":0.551},{"a":2.05,"k":3.5,"z":0.499},{"a":2.4,"k":3.5,"z":0.462},{"a":2.75,"k":3.5,"z":0.429},{"a":3.1,"k":3.5,"z":0.404},{"a":3.45,"k":3.5,"z":0.383},{"a":3.8,"k":3.5,"z":0.366},{"a":4.5,"k":3.5,"z":0.34},{"a":5.2,"k":3.5,"z":0.318},{"a":5.9,"k":3.5,"z":0.299},{"a":6.6,"k":3.5,"z":0.283},{"a":7.3,"k":3.5,"z":0.268},{"a":8.7,"k":3.5,"z":0.246},{"a":10.1,"k":3.5,"z":0.231},{"a":12.2,"k":3.5,"z":0.213},{"a":14.3,"k":3.5,"z":0.193},{"a":16.4,"k":3.5,"z":0.183},{"a":18.5,"k":3.5,"z":0.174},{"a":20.6,"k":3.5,"z":0.17},{"a":22.7,"k":3.5,"z":0.165},{"a":25,"k":3.5,"z":0.163},
{"a":1,"k":4,"z":0.72},{"a":1.35,"k":4,"z":0.626},{"a":1.7,"k":4,"z":0.563},{"a":2.05,"k":4,"z":0.509},{"a":2.4,"k":4,"z":0.47},{"a":2.75,"k":4,"z":0.436},{"a":3.1,"k":4,"z":0.41},{"a":3.45,"k":4,"z":0.388},{"a":3.8,"k":4,"z":0.37},{"a":4.5,"k":4,"z":0.343},{"a":5.2,"k":4,"z":0.32},{"a":5.9,"k":4,"z":0.3},{"a":6.6,"k":4,"z":0.283},{"a":7.3,"k":4,"z":0.268},{"a":8.7,"k":4,"z":0.245},{"a":10.1,"k":4,"z":0.23},{"a":12.2,"k":4,"z":0.21},{"a":14.3,"k":4,"z":0.19},{"a":16.4,"k":4,"z":0.178},{"a":18.5,"k":4,"z":0.17},{"a":20.6,"k":4,"z":0.165},{"a":22.7,"k":4,"z":0.16},{"a":25,"k":4,"z":0.158}]
},
"encoding":{"x":{"field":"u","type":"quantitative","axis":null,"scale":{"domain":[-0.09502,1.3238],"nice":false,"zero":false}},"y":{"field":"v","type":"quantitative","axis":null,"scale":{"domain":[-0.29,1.4979],"nice":false,"zero":false}}},
"layer":[
{"data":{"name":"box"},"transform":[{"calculate":"(datum.a-1)/24+0.2534*(4-datum.k)/3","as":"u"},{"calculate":"datum.z-0.116*(datum.a-1)/24+0.462*(4-datum.k)/3","as":"v"}],"mark":{"type":"line","color":"#404040","strokeWidth":1.6},"encoding":{"detail":{"field":"l"}}},
{"data":{"name":"P"},"transform":[{"calculate":"(datum.a-1)/24+0.2534*(4-datum.k)/3","as":"u"},{"calculate":"datum.z-0.116*(datum.a-1)/24+0.462*(4-datum.k)/3","as":"v"},{"window":[{"op":"dense_rank","as":"i"}],"sort":[{"field":"a"}]},{"window":[{"op":"dense_rank","as":"j"}],"sort":[{"field":"k"}]},{"calculate":"[0,1,2,3]","as":"c"},{"flatten":["c"]},{"calculate":"(datum.i-(datum.c==1||datum.c==2?1:0))*100+datum.j-(datum.c>=2?1:0)","as":"cell"},{"joinaggregate":[{"op":"count","as":"n"},{"op":"mean","field":"z","as":"m"}],"groupby":["cell"]},{"filter":"datum.n==4"}],"mark":{"type":"line","interpolate":"linear-closed","strokeWidth":1},"encoding":{"detail":{"field":"cell"},"order":{"field":"c"},"fill":{"field":"m","type":"quantitative","legend":null,"scale":{"domain":[0,0.1,0.2,0.3,0.4,0.48,0.6,0.7,0.8,0.87,0.93,1],"range":["#3a2aae","#4a3fe0","#3f5cf5","#2b85f0","#1aa5de","#05b8c8","#44c98c","#88c95a","#cfc030","#fcbb3a","#fddc28","#f9fb15"]}},"stroke":{"field":"m","type":"quantitative","legend":null,"scale":{"domain":[0,0.1,0.2,0.3,0.4,0.48,0.6,0.7,0.8,0.87,0.93,1],"range":["#3a2aae","#4a3fe0","#3f5cf5","#2b85f0","#1aa5de","#05b8c8","#44c98c","#88c95a","#cfc030","#fcbb3a","#fddc28","#f9fb15"]}}}},
{"data":{"name":"L"},"transform":[{"filter":"datum.l<100"},{"calculate":"(datum.a-1)/24+0.2534*(4-datum.k)/3","as":"u"},{"calculate":"datum.z-0.116*(datum.a-1)/24+0.462*(4-datum.k)/3","as":"v"}],"mark":{"type":"line","color":"#06060f","strokeWidth":2.3,"interpolate":"monotone"},"encoding":{"detail":{"field":"l"}}},
{"data":{"name":"L"},"transform":[{"filter":"datum.l>=100"},{"calculate":"(datum.a-1)/24+0.2534*(4-datum.k)/3","as":"u"},{"calculate":"datum.z-0.116*(datum.a-1)/24+0.462*(4-datum.k)/3","as":"v"}],"mark":{"type":"line","color":"#06060f","strokeWidth":1.4,"interpolate":"monotone"},"encoding":{"detail":{"field":"l"}}},
{"data":{"name":"A"},"transform":[{"calculate":"(datum.a-1)/24+0.2534*(4-datum.k)/3","as":"u"},{"calculate":"datum.z-0.116*(datum.a-1)/24+0.462*(4-datum.k)/3","as":"v"},{"window":[{"op":"dense_rank","as":"i"}],"sort":[{"field":"a"}]},{"window":[{"op":"dense_rank","as":"j"}],"sort":[{"field":"k"}]},{"calculate":"[0,1,2,3]","as":"c"},{"flatten":["c"]},{"calculate":"(datum.i-(datum.c==1||datum.c==2?1:0))*100+datum.j-(datum.c>=2?1:0)","as":"cell"},{"joinaggregate":[{"op":"count","as":"n"},{"op":"mean","field":"z","as":"m"}],"groupby":["cell"]},{"filter":"datum.n==4"}],"mark":{"type":"line","interpolate":"linear-closed","strokeWidth":1},"encoding":{"detail":{"field":"cell"},"order":{"field":"c"},"fill":{"field":"m","type":"quantitative","legend":null,"scale":{"domain":[0,0.1,0.2,0.3,0.4,0.48,0.6,0.7,0.8,0.87,0.93,1],"range":["#3a2aae","#4a3fe0","#3f5cf5","#2b85f0","#1aa5de","#05b8c8","#44c98c","#88c95a","#cfc030","#fcbb3a","#fddc28","#f9fb15"]}},"stroke":{"field":"m","type":"quantitative","legend":null,"scale":{"domain":[0,0.1,0.2,0.3,0.4,0.48,0.6,0.7,0.8,0.87,0.93,1],"range":["#3a2aae","#4a3fe0","#3f5cf5","#2b85f0","#1aa5de","#05b8c8","#44c98c","#88c95a","#cfc030","#fcbb3a","#fddc28","#f9fb15"]}}}},
{"data":{"name":"A"},"transform":[{"calculate":"(datum.a-1)/24+0.2534*(4-datum.k)/3","as":"u"},{"calculate":"datum.z-0.116*(datum.a-1)/24+0.462*(4-datum.k)/3","as":"v"}],"mark":{"type":"line","color":"#000000","strokeWidth":2,"strokeDash":[2,4.5],"interpolate":"monotone"},"encoding":{"detail":{"field":"a"}}},
{"data":{"name":"A"},"transform":[{"calculate":"(datum.a-1)/24+0.2534*(4-datum.k)/3","as":"u"},{"calculate":"datum.z-0.116*(datum.a-1)/24+0.462*(4-datum.k)/3","as":"v"}],"mark":{"type":"line","color":"#000000","strokeWidth":2,"strokeDash":[2,4.5],"interpolate":"monotone"},"encoding":{"detail":{"field":"k"}}},
{"data":{"name":"AL"},"transform":[{"calculate":"(datum.a-1)/24+0.2534*(4-datum.k)/3","as":"u"},{"calculate":"datum.z-0.116*(datum.a-1)/24+0.462*(4-datum.k)/3","as":"v"}],"mark":{"type":"line","color":"#000000","strokeWidth":2,"strokeDash":[2,4.5],"interpolate":"monotone"},"encoding":{"detail":{"field":"l"}}},
{"data":{"name":"labels"},"transform":[{"calculate":"(datum.a-1)/24+0.2534*(4-datum.k)/3","as":"u"},{"calculate":"datum.z-0.116*(datum.a-1)/24+0.462*(4-datum.k)/3","as":"v"}],"mark":{"type":"text","font":"Liberation Serif","fontSize":63,"color":"#262626","align":"center","baseline":"middle"},"encoding":{"text":{"field":"t"}}},
{"data":{"name":"notes"},"transform":[{"calculate":"(datum.a-1)/24+0.2534*(4-datum.k)/3","as":"u"},{"calculate":"datum.z-0.116*(datum.a-1)/24+0.462*(4-datum.k)/3","as":"v"}],"mark":{"type":"text","font":"Liberation Serif","fontSize":96,"color":"#ffffff","align":"center","baseline":"middle"},"encoding":{"text":{"field":"t"}}}
]}
